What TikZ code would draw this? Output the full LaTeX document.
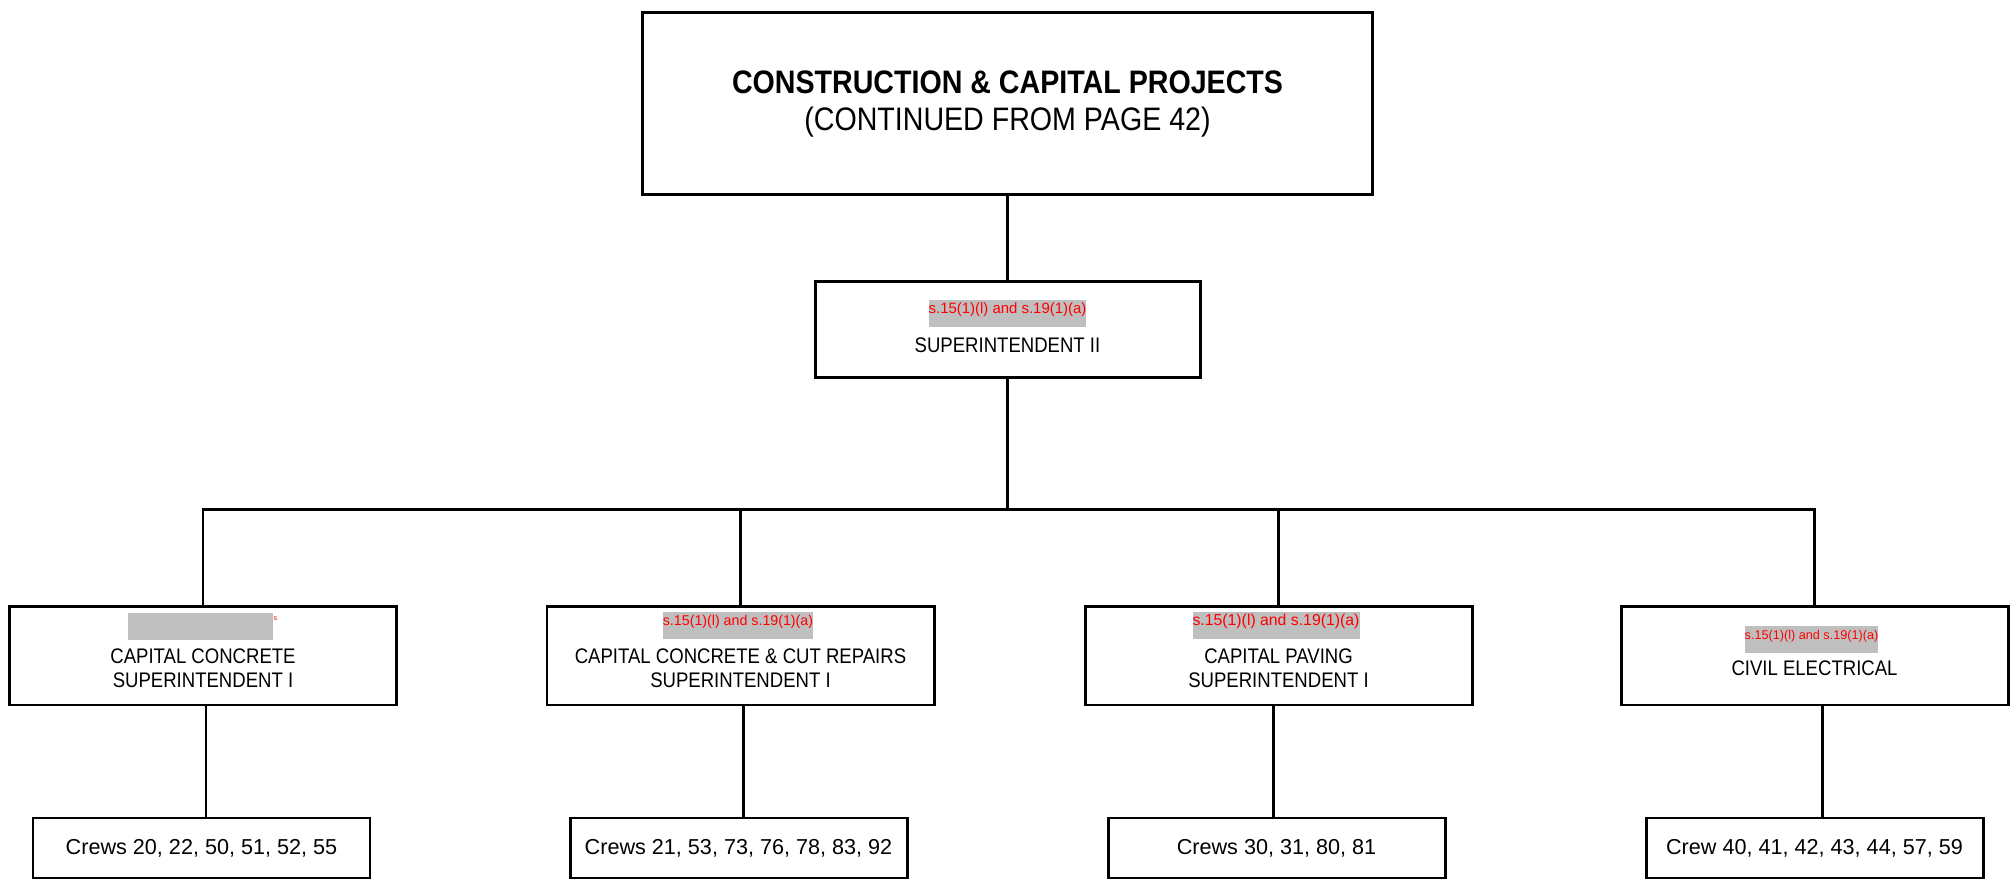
\documentclass[tikz,border=0pt]{standalone}
\usepackage{fontspec}
\setmainfont{Liberation Sans}
\newfontfamily\boxfont[FakeStretch=0.88]{Liberation Sans}
\definecolor{cred}{RGB}{255,0,0}
\definecolor{cgray}{RGB}{191,191,191}

\begin{document}
\begin{tikzpicture}[
        box/.style={draw=black,line width=1.7pt,inner sep=0pt},
        redact/.style={fill=cgray,text=cred,inner sep=0pt,text height=0.27cm,text depth=0.27cm},
        lbl/.style={font=\boxfont\fontsize{12}{13.7}\selectfont,align=center,inner sep=0pt},
        link/.style={line width=1.7pt}]
      \useasboundingbox (0,0) rectangle (40.32,17.64);
      \node[box,minimum width=14.6cm,minimum height=3.64cm,align=center,
            font=\boxfont\fontsize{18.5}{21.5}\selectfont] (top) at (20.15,15.56)
            {\textbf{CONSTRUCTION \& CAPITAL PROJECTS}\\(CONTINUED FROM PAGE 42)};
      \node[box,minimum width=7.7cm,minimum height=1.92cm] (sup) at (20.15,11.04) {};
      \node[redact,font=\fontsize{8.5}{10}\selectfont] (supr) at (20.15,11.37) {s.15(1)(l) and s.19(1)(a)};
      \node[lbl] (supt) at (20.15,10.74) {SUPERINTENDENT II};
      \draw[link] (top.south) -- (sup.north);
      \coordinate (bus) at (20.15,7.44);
      \draw[link] (sup.south) -- (bus);
      \foreach \i/\x/\cx/\dx/\lab/\crew in {
          1/4.06/4.03/0.06/{CAPITAL CONCRETE\\SUPERINTENDENT I}/{Crews 20, 22, 50, 51, 52, 55},
          2/14.81/14.77/0.06/{CAPITAL CONCRETE \& CUT REPAIRS\\SUPERINTENDENT I}/{Crews 21, 53, 73, 76, 78, 83, 92},
          3/25.57/25.53/-0.1/{CAPITAL PAVING\\SUPERINTENDENT I}/{Crews 30, 31, 80, 81},
          4/36.29/36.29/0.16/{CIVIL ELECTRICAL}/{Crew 40, 41, 42, 43, 44, 57, 59}} {
        \node[box,minimum width=7.74cm,minimum height=1.96cm] (unit\i) at (\x,4.52) {};
        \node[lbl] (unitt\i) at (\x,4.28) {\lab};
        \node[box,minimum width=6.74cm,minimum height=1.2cm,font=\fontsize{12.3}{14}\selectfont] (crew\i) at (\cx,0.68) {\crew};
        \draw[link] ([xshift=\dx cm]unit\i.south) -- ([xshift=\dx cm]unit\i.south |- crew\i.north);
      }
      \draw[link] (unit1.north) |- (unit4.north |- bus) -- (unit4.north);
      \foreach \i in {2,3}
        \draw[link] (unit\i.north) -- (unit\i.north |- bus);
      \node[redact,minimum width=2.9cm] (unitr1) at (4.01,5.11) {};
      \node[text=cred,font=\fontsize{4}{4}\selectfont,inner sep=0pt] (units1) at (5.51,5.26) {s};
      \node[redact,font=\fontsize{8.1}{10}\selectfont] (unitr2) at (14.76,5.13) {s.15(1)(l) and s.19(1)(a)};
      \node[redact,font=\fontsize{9}{10}\selectfont] (unitr3) at (25.52,5.13) {s.15(1)(l) and s.19(1)(a)};
      \node[redact,font=\fontsize{7.2}{10}\selectfont] (unitr4) at (36.23,4.85) {s.15(1)(l) and s.19(1)(a)};
    \end{tikzpicture}
\end{document}
